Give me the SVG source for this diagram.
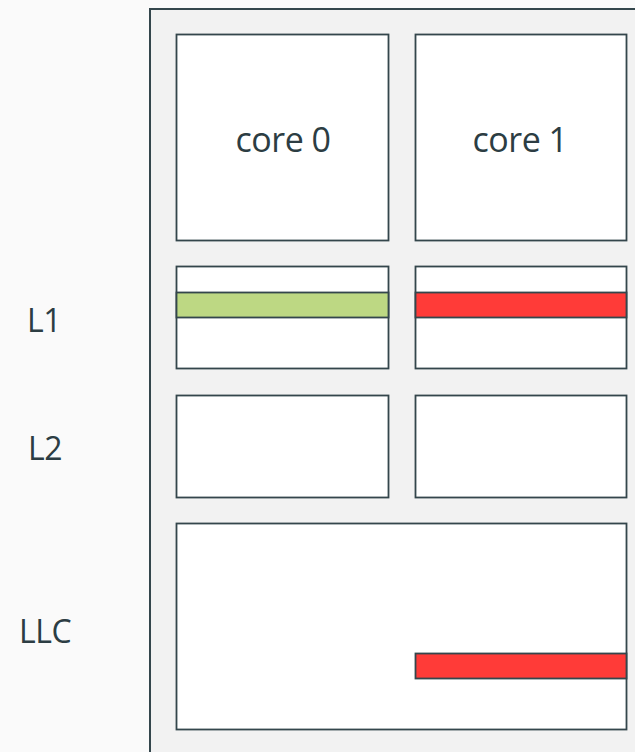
<svg xmlns="http://www.w3.org/2000/svg" width="635" height="752" viewBox="0 0 635 752">
<style>
.box{fill:#ffffff;stroke:#34464c;stroke-width:1.8}
.panel{fill:#f2f2f2;stroke:#34464c;stroke-width:2}
.red{fill:#ff3b38;stroke:#34464c;stroke-width:1.8}
.green{fill:#bdd883;stroke:#34464c;stroke-width:1.8}
.t{font-family:"Open Sans",sans-serif;font-size:34px;fill:#2c3d43;letter-spacing:-0.5px}
.lbl{font-family:"Open Sans",sans-serif;font-size:32px;fill:#2c3d43;letter-spacing:-0.5px}
</style>
<rect width="635" height="752" fill="#fafafa"/>
<g id="panel"><rect class="panel" x="150" y="9" width="500" height="760"/></g>
<g id="core0"><rect class="box" x="176.5" y="34.5" width="212" height="206"/><text class="t" x="283" y="152" text-anchor="middle">core 0</text></g>
<g id="core1"><rect class="box" x="415.5" y="34.5" width="211" height="206"/><text class="t" x="520" y="152" text-anchor="middle">core 1</text></g>
<g id="l1-0"><rect class="box" x="176.5" y="266.5" width="212" height="102"/><rect class="green" x="176.5" y="292.5" width="212" height="25"/></g>
<g id="l1-1"><rect class="box" x="415.5" y="266.5" width="211" height="102"/><rect class="red" x="415.5" y="292.5" width="211" height="25"/></g>
<g id="l2-0"><rect class="box" x="176.5" y="395.5" width="212" height="102"/></g>
<g id="l2-1"><rect class="box" x="415.5" y="395.5" width="211" height="102"/></g>
<g id="llc"><rect class="box" x="176.5" y="523.5" width="450" height="206"/><rect class="red" x="415.5" y="653.5" width="211" height="25"/></g>
<g id="labels">
<text class="lbl" x="44" y="332" text-anchor="middle">L1</text>
<text class="lbl" x="45" y="460" text-anchor="middle">L2</text>
<text class="lbl" x="45" y="643" text-anchor="middle">LLC</text>
</g>
<g id="connectors"/>
</svg>
